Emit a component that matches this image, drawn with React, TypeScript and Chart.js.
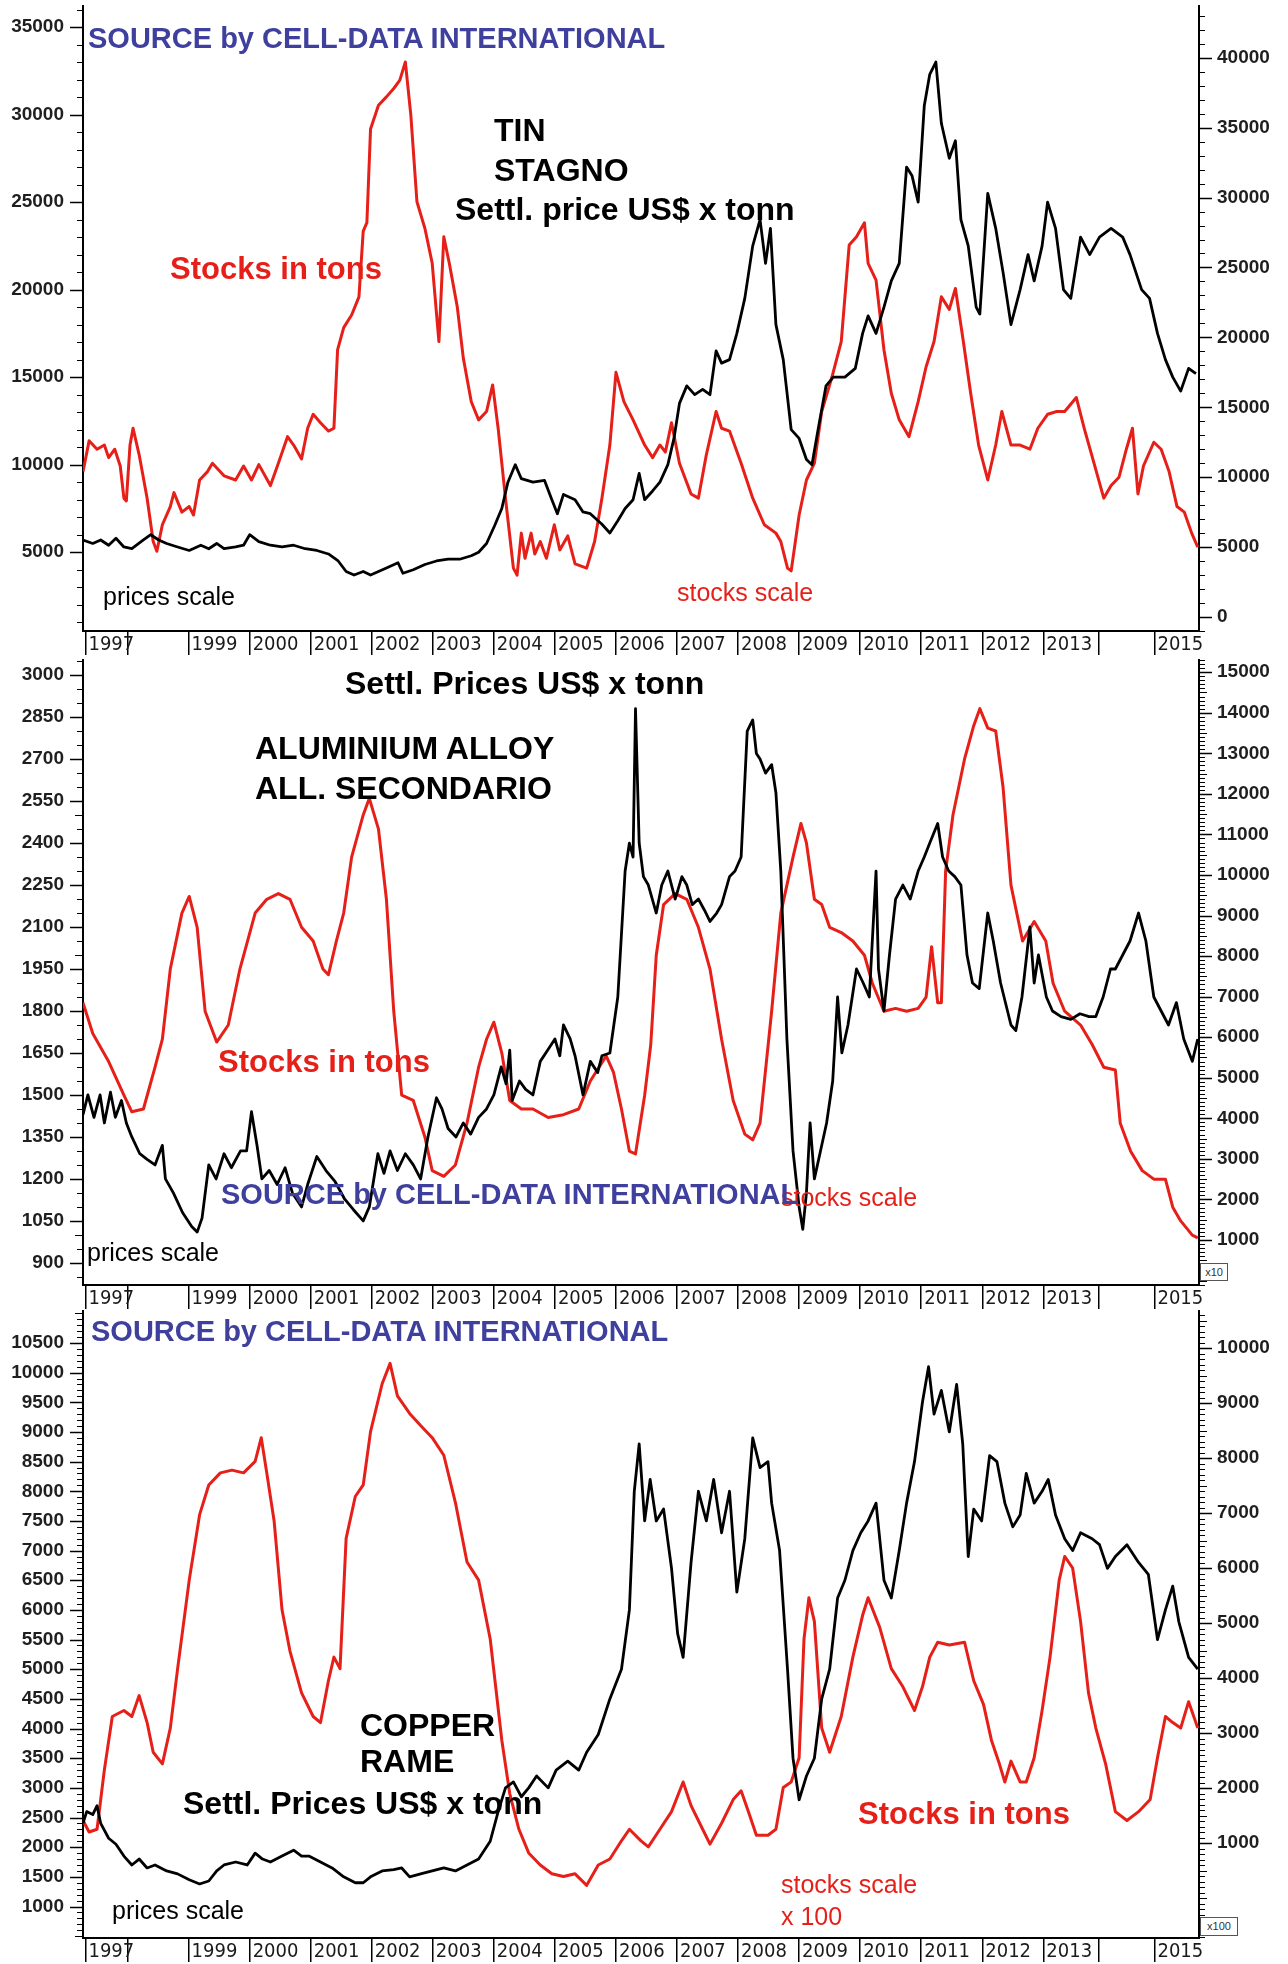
import React, { useEffect, useRef } from 'react';
import { Chart, registerables } from 'chart.js';

Chart.register(...registerables);

type Pt = [number, number];

const RED = '#e61f19';
const BLUE = '#3f3f9e';
const BLACK = '#000000';

// ---------- X axis (years) ----------
const yearTickValues = [1997.31, 1998, 1999, 2000, 2001, 2002, 2003, 2004, 2005, 2006, 2007, 2008, 2009, 2010, 2011, 2012, 2013, 2013.9, 2014.82];
const yearTickLabels = ['1997', '', '1999', '2000', '2001', '2002', '2003', '2004', '2005', '2006', '2007', '2008', '2009', '2010', '2011', '2012', '2013', '', '2015'];

// ---------- TIN ----------
const tinPriceTicks = [5000, 10000, 15000, 20000, 25000, 30000, 35000];
const tinStockTicks = [0, 5000, 10000, 15000, 20000, 25000, 30000, 35000, 40000];

const tinPrice: Pt[] = [
  [1997.27, 5700], [1997.43, 5500], [1997.56, 5700], [1997.69, 5400], [1997.81, 5800], [1997.94, 5300], [1998.07, 5200], [1998.26, 5700], [1998.38, 6000], [1998.51, 5700], [1998.64, 5500], [1998.82, 5300], [1999.01, 5100], [1999.2, 5400], [1999.33, 5200], [1999.46, 5500], [1999.58, 5200], [1999.77, 5300], [1999.9, 5400], [2000.0, 6000], [2000.15, 5600], [2000.34, 5400], [2000.53, 5300], [2000.72, 5400], [2000.91, 5200], [2001.1, 5100], [2001.29, 4900], [2001.45, 4500], [2001.58, 3900], [2001.71, 3700], [2001.86, 3900], [2001.98, 3700], [2002.11, 3900], [2002.24, 4100], [2002.43, 4400], [2002.51, 3800], [2002.68, 4000], [2002.87, 4300], [2003.06, 4500], [2003.25, 4600], [2003.44, 4600], [2003.63, 4800], [2003.75, 5000], [2003.88, 5500], [2004.01, 6500], [2004.13, 7500], [2004.23, 9000], [2004.35, 10000], [2004.45, 9200], [2004.64, 9000], [2004.83, 9100], [2004.95, 8000], [2005.04, 7200], [2005.14, 8300], [2005.33, 8000], [2005.46, 7300], [2005.58, 7200], [2005.77, 6600], [2005.9, 6100], [2006.03, 6800], [2006.15, 7500], [2006.28, 8000], [2006.38, 9500], [2006.47, 8000], [2006.6, 8500], [2006.72, 9000], [2006.85, 10000], [2006.95, 11500], [2007.04, 13500], [2007.16, 14500], [2007.29, 14000], [2007.42, 14300], [2007.54, 14000], [2007.64, 16500], [2007.73, 15800], [2007.86, 16000], [2007.98, 17500], [2008.11, 19500], [2008.24, 22500], [2008.36, 24000], [2008.45, 21500], [2008.53, 23500], [2008.62, 18000], [2008.74, 16000], [2008.87, 12000], [2009.0, 11500], [2009.12, 10300], [2009.21, 10000], [2009.31, 12000], [2009.44, 14500], [2009.56, 15000], [2009.75, 15000], [2009.92, 15500], [2010.04, 17500], [2010.13, 18500], [2010.26, 17500], [2010.39, 19000], [2010.51, 20500], [2010.64, 21500], [2010.76, 27000], [2010.85, 26500], [2010.95, 25000], [2011.05, 30500], [2011.14, 32300], [2011.24, 33000], [2011.33, 29500], [2011.46, 27500], [2011.56, 28500], [2011.65, 24000], [2011.77, 22500], [2011.9, 19000], [2011.96, 18600], [2012.09, 25500], [2012.22, 23500], [2012.34, 21000], [2012.47, 18000], [2012.62, 20000], [2012.75, 22000], [2012.85, 20500], [2012.98, 22500], [2013.07, 25000], [2013.2, 23500], [2013.33, 20000], [2013.45, 19500], [2013.61, 23000], [2013.76, 22000], [2013.92, 23000], [2014.11, 23500], [2014.3, 23000], [2014.42, 22000], [2014.61, 20000], [2014.74, 19500], [2014.87, 17500], [2015.0, 16000], [2015.12, 15000], [2015.25, 14200], [2015.38, 15500], [2015.5, 15200],
];

const tinStocks: Pt[] = [
  [1997.27, 10400], [1997.37, 12600], [1997.5, 12000], [1997.62, 12300], [1997.69, 11400], [1997.79, 12000], [1997.88, 10800], [1997.94, 8500], [1997.98, 8300], [1998.04, 12300], [1998.09, 13500], [1998.19, 11600], [1998.32, 8500], [1998.42, 5400], [1998.48, 4700], [1998.57, 6600], [1998.7, 7900], [1998.76, 8900], [1998.89, 7500], [1999.01, 7900], [1999.08, 7300], [1999.18, 9800], [1999.31, 10400], [1999.39, 11000], [1999.58, 10100], [1999.77, 9800], [1999.9, 10800], [2000.03, 9800], [2000.15, 10900], [2000.34, 9400], [2000.47, 11000], [2000.62, 12900], [2000.72, 12300], [2000.85, 11300], [2000.95, 13500], [2001.04, 14500], [2001.16, 13900], [2001.29, 13300], [2001.38, 13500], [2001.44, 19100], [2001.54, 20700], [2001.67, 21600], [2001.79, 22900], [2001.86, 27600], [2001.92, 28200], [2001.98, 34900], [2002.11, 36600], [2002.24, 37200], [2002.36, 37800], [2002.46, 38400], [2002.55, 39700], [2002.64, 35900], [2002.74, 29700], [2002.87, 27800], [2002.99, 25300], [2003.1, 19700], [2003.18, 27200], [2003.27, 25300], [2003.4, 22200], [2003.5, 18500], [2003.63, 15400], [2003.75, 14100], [2003.88, 14700], [2003.98, 16600], [2004.07, 13500], [2004.19, 8500], [2004.32, 3500], [2004.38, 3000], [2004.45, 6000], [2004.51, 4200], [2004.61, 6000], [2004.67, 4500], [2004.76, 5400], [2004.86, 4200], [2004.99, 6600], [2005.08, 4800], [2005.21, 5800], [2005.33, 3800], [2005.52, 3500], [2005.65, 5400], [2005.77, 8500], [2005.9, 12300], [2006.0, 17500], [2006.13, 15400], [2006.28, 14100], [2006.47, 12300], [2006.6, 11400], [2006.72, 12300], [2006.81, 11800], [2006.91, 13900], [2007.04, 11000], [2007.23, 8800], [2007.35, 8500], [2007.48, 11600], [2007.64, 14700], [2007.73, 13500], [2007.86, 13300], [2008.05, 11000], [2008.24, 8500], [2008.43, 6600], [2008.62, 6000], [2008.7, 5400], [2008.81, 3500], [2008.87, 3300], [2009.0, 7300], [2009.12, 9800], [2009.25, 11000], [2009.37, 14700], [2009.54, 17200], [2009.69, 19700], [2009.82, 26600], [2009.94, 27200], [2010.07, 28200], [2010.13, 25300], [2010.26, 24100], [2010.39, 19100], [2010.51, 16000], [2010.64, 14100], [2010.8, 12900], [2010.95, 15400], [2011.08, 17900], [2011.21, 19700], [2011.33, 22900], [2011.46, 22000], [2011.56, 23500], [2011.69, 19700], [2011.81, 16000], [2011.94, 12300], [2012.09, 9800], [2012.22, 12300], [2012.32, 14700], [2012.47, 12300], [2012.62, 12300], [2012.78, 12000], [2012.91, 13500], [2013.07, 14500], [2013.22, 14700], [2013.35, 14700], [2013.54, 15700], [2013.67, 13500], [2013.83, 11000], [2013.99, 8500], [2014.11, 9400], [2014.24, 10000], [2014.36, 12000], [2014.46, 13500], [2014.55, 8800], [2014.64, 10800], [2014.81, 12500], [2014.93, 12000], [2015.06, 10400], [2015.19, 7900], [2015.31, 7500], [2015.43, 6000], [2015.53, 5000],
];

// ---------- ALUMINIUM ALLOY ----------
const alPriceTicks = [900, 1050, 1200, 1350, 1500, 1650, 1800, 1950, 2100, 2250, 2400, 2550, 2700, 2850, 3000];
const alStockTicks = [1000, 2000, 3000, 4000, 5000, 6000, 7000, 8000, 9000, 10000, 11000, 12000, 13000, 14000, 15000];

const alPrice: Pt[] = [
  [1997.27, 1430], [1997.35, 1500], [1997.45, 1420], [1997.55, 1500], [1997.62, 1400], [1997.72, 1510], [1997.8, 1420], [1997.9, 1480], [1997.98, 1400], [1998.07, 1350], [1998.2, 1290], [1998.32, 1270], [1998.45, 1250], [1998.57, 1320], [1998.62, 1200], [1998.75, 1150], [1998.9, 1080], [1999.05, 1030], [1999.14, 1010], [1999.22, 1060], [1999.33, 1250], [1999.45, 1200], [1999.58, 1290], [1999.7, 1240], [1999.85, 1300], [1999.95, 1300], [2000.03, 1440], [2000.12, 1320], [2000.2, 1200], [2000.32, 1230], [2000.45, 1180], [2000.58, 1240], [2000.7, 1150], [2000.85, 1100], [2000.95, 1180], [2001.1, 1280], [2001.25, 1230], [2001.4, 1190], [2001.55, 1130], [2001.7, 1090], [2001.86, 1050], [2001.96, 1100], [2002.1, 1290], [2002.2, 1220], [2002.3, 1300], [2002.42, 1230], [2002.55, 1290], [2002.68, 1250], [2002.8, 1200], [2002.92, 1350], [2003.06, 1490], [2003.15, 1450], [2003.25, 1380], [2003.38, 1350], [2003.5, 1400], [2003.62, 1360], [2003.75, 1420], [2003.88, 1450], [2004.0, 1500], [2004.12, 1600], [2004.2, 1540], [2004.26, 1660], [2004.3, 1480], [2004.42, 1550], [2004.52, 1520], [2004.64, 1500], [2004.76, 1620], [2004.88, 1660], [2005.0, 1700], [2005.08, 1640], [2005.14, 1750], [2005.25, 1700], [2005.33, 1640], [2005.46, 1500], [2005.58, 1620], [2005.7, 1580], [2005.77, 1640], [2005.9, 1650], [2006.03, 1850], [2006.15, 2300], [2006.22, 2400], [2006.28, 2350], [2006.32, 2880], [2006.38, 2400], [2006.45, 2280], [2006.53, 2250], [2006.66, 2150], [2006.75, 2250], [2006.85, 2300], [2006.97, 2200], [2007.08, 2280], [2007.16, 2250], [2007.25, 2180], [2007.35, 2200], [2007.45, 2160], [2007.54, 2120], [2007.65, 2150], [2007.73, 2180], [2007.86, 2280], [2007.95, 2300], [2008.05, 2350], [2008.15, 2800], [2008.24, 2840], [2008.3, 2720], [2008.36, 2700], [2008.45, 2650], [2008.55, 2680], [2008.62, 2580], [2008.7, 2300], [2008.8, 1700], [2008.9, 1300], [2009.0, 1100], [2009.06, 1020], [2009.12, 1150], [2009.18, 1400], [2009.25, 1200], [2009.35, 1300], [2009.45, 1400], [2009.55, 1550], [2009.63, 1850], [2009.7, 1650], [2009.8, 1750], [2009.94, 1950], [2010.05, 1900], [2010.15, 1850], [2010.26, 2300], [2010.3, 1950], [2010.39, 1800], [2010.48, 2000], [2010.58, 2200], [2010.7, 2250], [2010.82, 2200], [2010.95, 2300], [2011.05, 2350], [2011.14, 2400], [2011.27, 2470], [2011.35, 2350], [2011.45, 2300], [2011.55, 2280], [2011.65, 2250], [2011.75, 2000], [2011.84, 1900], [2011.95, 1880], [2012.09, 2150], [2012.18, 2050], [2012.3, 1900], [2012.47, 1750], [2012.55, 1730], [2012.65, 1850], [2012.78, 2100], [2012.85, 1900], [2012.92, 2000], [2013.05, 1850], [2013.15, 1800], [2013.29, 1780], [2013.45, 1770], [2013.6, 1790], [2013.75, 1780], [2013.86, 1780], [2013.98, 1850], [2014.1, 1950], [2014.18, 1950], [2014.3, 2000], [2014.42, 2050], [2014.56, 2150], [2014.68, 2050], [2014.81, 1850], [2014.93, 1800], [2015.05, 1750], [2015.18, 1830], [2015.3, 1700], [2015.44, 1620], [2015.53, 1700],
];

const alStocks: Pt[] = [
  [1997.27, 6850], [1997.43, 6090], [1997.69, 5400], [1997.94, 4570], [1998.07, 4160], [1998.26, 4230], [1998.45, 5260], [1998.57, 5950], [1998.7, 7680], [1998.89, 9060], [1999.01, 9470], [1999.14, 8710], [1999.27, 6640], [1999.46, 5880], [1999.65, 6300], [1999.84, 7680], [2000.09, 9060], [2000.28, 9400], [2000.47, 9540], [2000.66, 9400], [2000.85, 8710], [2001.04, 8370], [2001.2, 7680], [2001.29, 7540], [2001.42, 8370], [2001.54, 9060], [2001.67, 10440], [2001.86, 11480], [2001.96, 11890], [2002.11, 11130], [2002.24, 9400], [2002.36, 6640], [2002.49, 4570], [2002.68, 4440], [2002.87, 3540], [2002.99, 2710], [2003.18, 2570], [2003.37, 2850], [2003.56, 3880], [2003.75, 5260], [2003.88, 5950], [2004.0, 6370], [2004.13, 5610], [2004.26, 4440], [2004.45, 4230], [2004.64, 4230], [2004.89, 4020], [2005.14, 4090], [2005.39, 4230], [2005.58, 4920], [2005.84, 5540], [2005.96, 5130], [2006.09, 4230], [2006.22, 3190], [2006.32, 3120], [2006.47, 4570], [2006.57, 5820], [2006.66, 8020], [2006.78, 9270], [2006.97, 9540], [2007.16, 9400], [2007.35, 8710], [2007.54, 7680], [2007.73, 5950], [2007.92, 4440], [2008.11, 3610], [2008.24, 3470], [2008.36, 3880], [2008.55, 6640], [2008.7, 9060], [2008.8, 9750], [2008.9, 10440], [2009.03, 11270], [2009.12, 10790], [2009.25, 9400], [2009.37, 9270], [2009.5, 8710], [2009.69, 8580], [2009.88, 8370], [2010.07, 8020], [2010.2, 7330], [2010.39, 6640], [2010.58, 6710], [2010.76, 6640], [2010.95, 6710], [2011.08, 6990], [2011.17, 8230], [2011.27, 6850], [2011.33, 6850], [2011.4, 10100], [2011.52, 11480], [2011.71, 12860], [2011.86, 13680], [2011.96, 14100], [2012.09, 13620], [2012.22, 13550], [2012.34, 12170], [2012.47, 9750], [2012.66, 8370], [2012.85, 8850], [2013.04, 8370], [2013.16, 7330], [2013.35, 6640], [2013.61, 6300], [2013.8, 5820], [2013.99, 5260], [2014.18, 5190], [2014.26, 3880], [2014.43, 3190], [2014.62, 2710], [2014.81, 2500], [2015.0, 2500], [2015.12, 1810], [2015.25, 1470], [2015.44, 1120], [2015.53, 1050],
];

// ---------- COPPER ----------
const cuPriceTicks = [1000, 1500, 2000, 2500, 3000, 3500, 4000, 4500, 5000, 5500, 6000, 6500, 7000, 7500, 8000, 8500, 9000, 9500, 10000, 10500];
const cuStockTicks = [1000, 2000, 3000, 4000, 5000, 6000, 7000, 8000, 9000, 10000];

const cuPrice: Pt[] = [
  [1997.27, 2400], [1997.33, 2600], [1997.43, 2550], [1997.5, 2700], [1997.56, 2400], [1997.69, 2150], [1997.81, 2050], [1997.94, 1850], [1998.07, 1700], [1998.19, 1800], [1998.32, 1650], [1998.45, 1700], [1998.64, 1600], [1998.82, 1550], [1999.01, 1450], [1999.18, 1380], [1999.33, 1430], [1999.46, 1600], [1999.58, 1700], [1999.77, 1750], [1999.96, 1700], [2000.09, 1900], [2000.21, 1800], [2000.34, 1750], [2000.53, 1850], [2000.72, 1950], [2000.85, 1850], [2000.97, 1850], [2001.16, 1750], [2001.35, 1650], [2001.54, 1500], [2001.73, 1400], [2001.86, 1400], [2001.98, 1500], [2002.17, 1600], [2002.36, 1620], [2002.49, 1650], [2002.62, 1500], [2002.8, 1550], [2002.99, 1600], [2003.18, 1650], [2003.37, 1600], [2003.56, 1700], [2003.75, 1800], [2003.94, 2100], [2004.07, 2600], [2004.19, 3000], [2004.32, 3100], [2004.45, 2850], [2004.57, 3000], [2004.7, 3200], [2004.89, 3000], [2005.02, 3300], [2005.21, 3450], [2005.39, 3300], [2005.52, 3600], [2005.71, 3900], [2005.9, 4500], [2006.09, 5000], [2006.22, 6000], [2006.3, 8000], [2006.38, 8800], [2006.47, 7500], [2006.56, 8200], [2006.66, 7500], [2006.78, 7700], [2006.91, 6700], [2007.01, 5600], [2007.1, 5200], [2007.23, 6800], [2007.35, 8000], [2007.48, 7500], [2007.6, 8200], [2007.73, 7300], [2007.86, 8000], [2007.98, 6300], [2008.11, 7200], [2008.24, 8900], [2008.36, 8400], [2008.49, 8500], [2008.55, 7800], [2008.68, 7000], [2008.81, 5000], [2008.9, 3500], [2009.0, 2800], [2009.12, 3200], [2009.25, 3500], [2009.37, 4500], [2009.5, 5000], [2009.63, 6200], [2009.75, 6500], [2009.88, 7000], [2010.01, 7300], [2010.13, 7500], [2010.26, 7800], [2010.39, 6500], [2010.51, 6200], [2010.64, 7000], [2010.76, 7800], [2010.89, 8500], [2011.02, 9500], [2011.12, 10100], [2011.21, 9300], [2011.33, 9700], [2011.46, 9000], [2011.58, 9800], [2011.68, 8800], [2011.77, 6900], [2011.86, 7700], [2011.99, 7500], [2012.12, 8600], [2012.24, 8500], [2012.37, 7800], [2012.5, 7400], [2012.62, 7600], [2012.72, 8300], [2012.85, 7800], [2012.98, 8000], [2013.08, 8200], [2013.2, 7600], [2013.35, 7200], [2013.48, 7000], [2013.61, 7300], [2013.8, 7200], [2013.92, 7100], [2014.05, 6700], [2014.18, 6900], [2014.37, 7100], [2014.56, 6800], [2014.72, 6600], [2014.87, 5500], [2015.0, 6000], [2015.12, 6400], [2015.22, 5800], [2015.38, 5200], [2015.53, 5000],
];

const cuStocks: Pt[] = [
  [1997.27, 1410], [1997.37, 1200], [1997.5, 1250], [1997.62, 2330], [1997.75, 3300], [1997.94, 3410], [1998.07, 3300], [1998.19, 3680], [1998.32, 3190], [1998.42, 2650], [1998.57, 2440], [1998.7, 3090], [1998.82, 4170], [1999.01, 5780], [1999.18, 6970], [1999.33, 7510], [1999.52, 7730], [1999.71, 7780], [1999.9, 7730], [2000.09, 7940], [2000.19, 8370], [2000.28, 7730], [2000.4, 6860], [2000.53, 5240], [2000.66, 4490], [2000.85, 3730], [2001.04, 3300], [2001.16, 3190], [2001.29, 3950], [2001.38, 4380], [2001.48, 4170], [2001.58, 6540], [2001.73, 7300], [2001.86, 7510], [2001.98, 8480], [2002.17, 9350], [2002.3, 9720], [2002.42, 9130], [2002.62, 8810], [2002.8, 8590], [2002.99, 8370], [2003.18, 8050], [2003.37, 7190], [2003.56, 6110], [2003.75, 5780], [2003.94, 4710], [2004.13, 2870], [2004.26, 1900], [2004.41, 1250], [2004.57, 820], [2004.76, 600], [2004.95, 440], [2005.14, 390], [2005.33, 440], [2005.52, 230], [2005.71, 600], [2005.9, 710], [2006.09, 1040], [2006.22, 1250], [2006.41, 1040], [2006.53, 930], [2006.72, 1250], [2006.91, 1570], [2007.1, 2110], [2007.23, 1680], [2007.42, 1250], [2007.54, 980], [2007.73, 1360], [2007.92, 1790], [2008.05, 1950], [2008.17, 1570], [2008.3, 1140], [2008.49, 1140], [2008.62, 1250], [2008.74, 2010], [2008.87, 2110], [2009.0, 2550], [2009.08, 4710], [2009.16, 5460], [2009.25, 5030], [2009.37, 3090], [2009.5, 2650], [2009.69, 3300], [2009.88, 4380], [2010.04, 5140], [2010.13, 5460], [2010.32, 4920], [2010.51, 4170], [2010.7, 3840], [2010.89, 3410], [2011.02, 3840], [2011.14, 4380], [2011.27, 4650], [2011.46, 4600], [2011.71, 4650], [2011.86, 3950], [2012.02, 3520], [2012.15, 2870], [2012.28, 2440], [2012.37, 2110], [2012.47, 2490], [2012.62, 2110], [2012.72, 2110], [2012.85, 2550], [2012.98, 3410], [2013.11, 4380], [2013.26, 5780], [2013.35, 6210], [2013.48, 6000], [2013.61, 5030], [2013.74, 3730], [2013.86, 3090], [2014.02, 2440], [2014.18, 1570], [2014.37, 1410], [2014.56, 1570], [2014.75, 1790], [2014.87, 2550], [2015.0, 3300], [2015.12, 3190], [2015.25, 3090], [2015.38, 3570], [2015.53, 3090],
];

// ---------- Layout / styles ----------
const SANS = "'Liberation Sans', Arial, sans-serif";
const NARROW = "'Liberation Sans Narrow', 'DejaVu Sans Condensed', 'Liberation Sans', Arial, sans-serif";

type AxisCfg = { min: number; max: number; ticks: number[]; minor: number };
type PanelCfg = {
  top: number; height: number; padTop: number; padBottom: number;
  left: AxisCfg; right: AxisCfg; price: Pt[]; stocks: Pt[];
};

const panels: PanelCfg[] = [
  { top: 0, height: 655, padTop: 6, padBottom: 0,
    left: { min: 500, max: 36200, ticks: tinPriceTicks, minor: 1000 },
    right: { min: -1000, max: 43700, ticks: tinStockTicks, minor: 1000 },
    price: tinPrice, stocks: tinStocks },
  { top: 655, height: 655, padTop: 5, padBottom: 1,
    left: { min: 821, max: 3054, ticks: alPriceTicks, minor: 50 },
    right: { min: -110, max: 15300, ticks: alStockTicks, minor: 100 },
    price: alPrice, stocks: alStocks },
  { top: 1310, height: 654, padTop: 1, padBottom: 2,
    left: { min: 469, max: 11039, ticks: cuPriceTicks, minor: 100 },
    right: { min: -727, max: 10673, ticks: cuStockTicks, minor: 100 },
    price: cuPrice, stocks: cuStocks },
];

const axisMarks = {
  id: 'axisMarks',
  afterDraw(chart: any, _args: any, opts: any) {
    const ctx = chart.ctx;
    ctx.save();
    ctx.strokeStyle = '#000';
    for (const id of ['y', 'y1']) {
      const s = chart.scales[id];
      const cfg = opts[id];
      if (!s || !cfg) continue;
      const isLeft = id === 'y';
      const edge = isLeft ? s.right : s.left;
      const start = Math.ceil(s.min / cfg.minor);
      for (let k = start; k * cfg.minor <= s.max; k++) {
        const v = k * cfg.minor;
        const py = Math.round(s.getPixelForValue(v)) + 0.5;
        const major = cfg.ticks.indexOf(v) >= 0;
        const len = major ? 13 : (cfg.minor < 500 && v % 500 === 0 ? 8 : 6);
        ctx.lineWidth = major ? 1.5 : 1;
        ctx.beginPath();
        if (isLeft) { ctx.moveTo(edge - len, py); ctx.lineTo(edge, py); }
        else { ctx.moveTo(edge, py); ctx.lineTo(edge + len, py); }
        ctx.stroke();
      }
    }
    ctx.restore();
  },
};

function Panel({ cfg }: { cfg: PanelCfg }) {
  const ref = useRef<HTMLCanvasElement | null>(null);
  useEffect(() => {
    if (!ref.current) return;
    const yFont = { family: SANS, size: 19, weight: 'bold' as const };
    const chart = new Chart(ref.current, {
      type: 'line',
      data: {
        datasets: [
          { label: 'price', data: cfg.price.map(([x, y]) => ({ x, y })), yAxisID: 'y',
            borderColor: BLACK, borderWidth: 2.8, pointRadius: 0, tension: 0, borderJoinStyle: 'round' },
          { label: 'stocks', data: cfg.stocks.map(([x, y]) => ({ x, y })), yAxisID: 'y1',
            borderColor: RED, borderWidth: 3, pointRadius: 0, tension: 0, borderJoinStyle: 'round' },
        ],
      },
      options: {
        animation: false,
        responsive: false,
        maintainAspectRatio: false,
        events: [],
        layout: { padding: { top: cfg.padTop, bottom: cfg.padBottom, left: 0, right: 0 } },
        plugins: {
          legend: { display: false },
          tooltip: { enabled: false },
          axisMarks: { y: cfg.left, y1: cfg.right },
        } as any,
        scales: {
          x: {
            type: 'linear', position: 'bottom', min: 1997.27, max: 2015.55,
            afterBuildTicks: (s: any) => { s.ticks = yearTickValues.map((v) => ({ value: v })); },
            afterFit: (s: any) => { s.height = 24; s.paddingLeft = 0; s.paddingRight = 0; },
            ticks: {
              autoSkip: false, maxRotation: 0, minRotation: 0, align: 'start', padding: -22, labelOffset: 3,
              color: '#1a1a1a', font: { family: NARROW, size: 20 },
              callback: (_v: any, i: number) => yearTickLabels[i],
            },
            grid: { drawOnChartArea: false, drawTicks: true, tickLength: 24, color: '#000', lineWidth: 1.5 },
            border: { display: true, color: '#000', width: 2 },
          },
          y: {
            type: 'linear', position: 'left', min: cfg.left.min, max: cfg.left.max,
            afterBuildTicks: (s: any) => { s.ticks = cfg.left.ticks.map((v) => ({ value: v })); },
            afterFit: (s: any) => { s.width = 83; s.paddingTop = 0; s.paddingBottom = 0; },
            ticks: { padding: 19, color: '#1f1f1f', font: yFont, callback: (v: any) => String(v) },
            grid: { drawOnChartArea: false, drawTicks: false },
            border: { display: true, color: '#000', width: 2 },
          },
          y1: {
            type: 'linear', position: 'right', min: cfg.right.min, max: cfg.right.max,
            afterBuildTicks: (s: any) => { s.ticks = cfg.right.ticks.map((v) => ({ value: v })); },
            afterFit: (s: any) => { s.width = 89; s.paddingTop = 0; s.paddingBottom = 0; },
            ticks: { padding: 18, color: '#1f1f1f', font: yFont, callback: (v: any) => String(v) },
            grid: { drawOnChartArea: false, drawTicks: false },
            border: { display: true, color: '#000', width: 2 },
          },
        },
      } as any,
      plugins: [axisMarks],
    });
    return () => chart.destroy();
  }, [cfg]);
  return (
    <canvas
      ref={ref}
      width={1288}
      height={cfg.height}
      style={{ position: 'absolute', left: 0, top: cfg.top, width: 1288, height: cfg.height, display: 'block' }}
    />
  );
}

type Note = { text: string; x: number; y: number; size: number; bold: boolean; color: string };

const notes: Note[] = [
  { text: 'SOURCE by CELL-DATA INTERNATIONAL', x: 88, y: 24, size: 29, bold: true, color: BLUE },
  { text: 'TIN', x: 494, y: 114, size: 32, bold: true, color: BLACK },
  { text: 'STAGNO', x: 494, y: 154, size: 32, bold: true, color: BLACK },
  { text: 'Settl. price US$ x tonn', x: 455, y: 193, size: 32, bold: true, color: BLACK },
  { text: 'Stocks in tons', x: 170, y: 253, size: 31, bold: true, color: RED },
  { text: 'prices scale', x: 103, y: 584, size: 25, bold: false, color: BLACK },
  { text: 'stocks scale', x: 677, y: 580, size: 25, bold: false, color: RED },

  { text: 'Settl. Prices US$ x tonn', x: 345, y: 667, size: 32, bold: true, color: BLACK },
  { text: 'ALUMINIUM ALLOY', x: 255, y: 732, size: 32, bold: true, color: BLACK },
  { text: 'ALL. SECONDARIO', x: 255, y: 772, size: 32, bold: true, color: BLACK },
  { text: 'Stocks in tons', x: 218, y: 1046, size: 31, bold: true, color: RED },
  { text: 'stocks scale', x: 781, y: 1185, size: 25, bold: false, color: RED },
  { text: 'SOURCE by CELL-DATA INTERNATIONAL', x: 221, y: 1180, size: 29, bold: true, color: BLUE },
  { text: 'prices scale', x: 87, y: 1240, size: 25, bold: false, color: BLACK },

  { text: 'SOURCE by CELL-DATA INTERNATIONAL', x: 91, y: 1317, size: 29, bold: true, color: BLUE },
  { text: 'COPPER', x: 360, y: 1709, size: 32, bold: true, color: BLACK },
  { text: 'RAME', x: 360, y: 1745, size: 32, bold: true, color: BLACK },
  { text: 'Settl. Prices US$ x tonn', x: 183, y: 1787, size: 32, bold: true, color: BLACK },
  { text: 'Stocks in tons', x: 858, y: 1798, size: 31, bold: true, color: RED },
  { text: 'prices scale', x: 112, y: 1898, size: 25, bold: false, color: BLACK },
  { text: 'stocks scale', x: 781, y: 1872, size: 25, bold: false, color: RED },
  { text: 'x 100', x: 781, y: 1904, size: 25, bold: false, color: RED },
];

const scaleBoxes = [
  { text: 'x10', x: 1200, y: 1263, w: 28, h: 18 },
  { text: 'x100', x: 1200, y: 1917, w: 38, h: 19 },
];

export default function App() {
  return (
    <div style={{ position: 'absolute', left: 0, top: 0, width: 1288, height: 1964, background: '#fff', overflow: 'hidden' }}>
      {panels.map((p, i) => <Panel key={i} cfg={p} />)}
      {notes.map((n, i) => (
        <div key={'n' + i} style={{
          position: 'absolute', left: n.x, top: n.y, fontFamily: SANS, fontSize: n.size,
          fontWeight: n.bold ? 700 : 400, color: n.color, lineHeight: 1, whiteSpace: 'nowrap',
        }}>{n.text}</div>
      ))}
      {scaleBoxes.map((b, i) => (
        <div key={'b' + i} style={{
          position: 'absolute', left: b.x, top: b.y, width: b.w, height: b.h, boxSizing: 'border-box',
          border: '1px solid #555', fontFamily: SANS, fontSize: 11, lineHeight: (b.h - 2) + 'px',
          textAlign: 'center', color: '#333', background: '#fff',
        }}>{b.text}</div>
      ))}
    </div>
  );
}
